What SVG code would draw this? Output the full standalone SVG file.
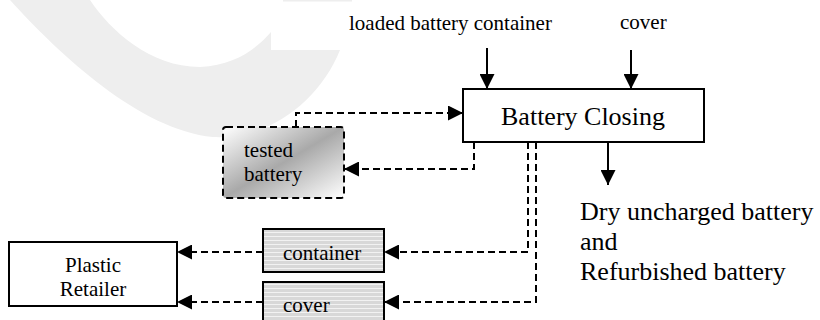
<svg xmlns="http://www.w3.org/2000/svg" width="820" height="320" viewBox="0 0 820 320">
<style>
  text { font-family: "Liberation Serif", "Times New Roman", serif; fill: #000; }
  .big { font-size: 26px; }
  .sm { font-size: 21px; }
  .box { fill: #fff; stroke: #000; stroke-width: 2; }
  .solid { fill: none; stroke: #000; stroke-width: 2; }
  .dash { fill: none; stroke: #000; stroke-width: 2; stroke-dasharray: 7 4; }
</style>
<defs>
  <marker id="arr" viewBox="0 0 15 15" refX="15" refY="7.5" markerWidth="15" markerHeight="15" markerUnits="userSpaceOnUse" orient="auto">
    <path d="M0,0 L15,7.5 L0,15 Z" fill="#000"/>
  </marker>
  <linearGradient id="grad" x1="0" y1="0" x2="1" y2="1">
    <stop offset="0" stop-color="#ffffff"/>
    <stop offset="0.5" stop-color="#a9a9a9"/>
    <stop offset="1" stop-color="#ffffff"/>
  </linearGradient>
  <pattern id="stripes" width="8" height="4" patternUnits="userSpaceOnUse">
    <rect width="8" height="4" fill="#d8d8d8"/>
    <rect y="0" width="8" height="1" fill="#f2f2f2"/>
  </pattern>
</defs>
<g id="watermark">
  <path d="M10,0 C60,55 140,130 213,137 C270,140 320,100 340,50 L271,50 L271,32 C255,50 235,65 200,67 C150,67 110,30 90,0 Z" fill="#eeeeee"/>
  <rect x="283" y="0" width="69" height="1.5" fill="#eeeeee"/>
</g>
<g id="connectors">
  <path class="solid" d="M487,48 L487,89" marker-end="url(#arr)"/>
  <path class="solid" d="M631,50 L631,89" marker-end="url(#arr)"/>
  <path class="solid" d="M608,142 L608,185" marker-end="url(#arr)"/>
  <path class="dash" d="M296,127 L296,113 L463,113" marker-end="url(#arr)"/>
  <path class="dash" d="M474,142 L474,169 L344,169" marker-end="url(#arr)"/>
  <path class="dash" d="M528,142 L528,252 L384,252" marker-end="url(#arr)"/>
  <path class="dash" d="M536,142 L536,302 L384,302" marker-end="url(#arr)"/>
  <path class="dash" d="M263,252 L177,252" marker-end="url(#arr)"/>
  <path class="dash" d="M263,302 L177,302" marker-end="url(#arr)"/>
</g>
<g id="label-loaded">
  <text class="sm" x="349" y="30">loaded battery container</text>
</g>
<g id="label-cover-in">
  <text class="sm" x="620" y="29">cover</text>
</g>
<g id="battery-closing">
  <rect class="box" x="463" y="89" width="241" height="53"/>
  <text class="big" x="583" y="125" text-anchor="middle">Battery Closing</text>
</g>
<g id="output">
  <text class="big" x="580" y="220">Dry uncharged battery</text>
  <text class="big" x="580" y="250">and</text>
  <text class="big" x="580" y="280">Refurbished battery</text>
</g>
<g id="tested-battery">
  <rect x="223" y="127" width="121" height="71" rx="3" fill="url(#grad)" stroke="#000" stroke-width="2" stroke-dasharray="7 4"/>
  <text class="sm" x="244" y="157">tested</text>
  <text class="sm" x="244" y="181">battery</text>
</g>
<g id="container">
  <rect x="263" y="229" width="121" height="43" fill="url(#stripes)" stroke="#000" stroke-width="2"/>
  <text class="sm" x="283" y="260">container</text>
</g>
<g id="cover">
  <rect x="263" y="282" width="121" height="45" fill="url(#stripes)" stroke="#000" stroke-width="2"/>
  <text class="sm" x="283" y="312">cover</text>
</g>
<g id="plastic-retailer">
  <rect class="box" x="9" y="242" width="168" height="64"/>
  <text class="sm" x="93" y="272" text-anchor="middle">Plastic</text>
  <text class="sm" x="93" y="296" text-anchor="middle">Retailer</text>
</g>
</svg>
